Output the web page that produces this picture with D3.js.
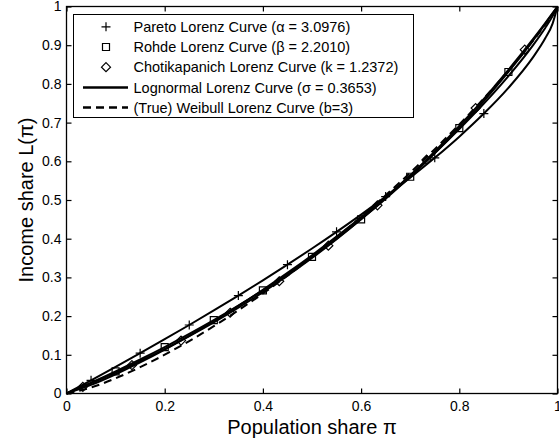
<!DOCTYPE html>
<html>
<head>
<meta charset="utf-8">
<style>
body { margin: 0; background: white; }
svg { font-family: "Liberation Sans", Arial, sans-serif; }
.axis path { display: none; }
.axis line { stroke: black; stroke-width: 1.2px; }
.axis text { font-size: 14px; fill: black; }
</style>
</head>
<body>
<script src="https://cdn.jsdelivr.net/npm/d3@7"></script>
<script>
var width = 559,
    height = 447;

// population share grid and the curves
var popShare = [0, 0.05, 0.1, 0.15, 0.2, 0.25, 0.3, 0.35, 0.4, 0.45, 0.5, 0.55, 0.6, 0.65, 0.7, 0.75, 0.8, 0.85, 0.9, 0.95, 0.975, 0.99, 1];
var paretoL = [0, 0.0341, 0.0689, 0.1042, 0.1402, 0.1770, 0.2146, 0.2530, 0.2924, 0.3329, 0.3746, 0.4177, 0.4623, 0.5088, 0.5575, 0.6089, 0.6637, 0.7233, 0.7897, 0.8685, 0.9177, 0.9558, 1];
var rohdeL = [0, 0.0279, 0.0572, 0.0878, 0.1200, 0.1539, 0.1895, 0.2271, 0.2667, 0.3087, 0.3530, 0.4001, 0.4501, 0.5033, 0.5601, 0.6208, 0.6858, 0.7556, 0.8308, 0.9120, 0.9551, 0.9818, 1];
var chotiL = [0, 0.0261, 0.0538, 0.0834, 0.1148, 0.1482, 0.1837, 0.2216, 0.2618, 0.3046, 0.3501, 0.3985, 0.4501, 0.5049, 0.5632, 0.6252, 0.6912, 0.7614, 0.8361, 0.9155, 0.9571, 0.9827, 1];
var lognormalL = [0, 0.0222, 0.0498, 0.0805, 0.1137, 0.1492, 0.1868, 0.2264, 0.2681, 0.3117, 0.3574, 0.4053, 0.4554, 0.5080, 0.5632, 0.6214, 0.6831, 0.7489, 0.8202, 0.8997, 0.9446, 0.9751, 1];
var weibullL = [0, 0.0155, 0.0393, 0.0679, 0.1002, 0.1356, 0.1740, 0.2150, 0.2585, 0.3044, 0.3527, 0.4035, 0.4564, 0.5122, 0.5704, 0.6313, 0.6953, 0.7626, 0.8341, 0.9111, 0.9528, 0.9796, 1];

// marker positions
var paretoMarkP = [0.05, 0.15, 0.25, 0.35, 0.45, 0.55, 0.65, 0.75, 0.85];
var paretoMarkL = [0.0341, 0.1042, 0.1770, 0.2530, 0.3329, 0.4177, 0.5088, 0.6089, 0.7233];
var rohdeMarkP = [0.1, 0.2, 0.3, 0.4, 0.5, 0.6, 0.7, 0.8, 0.9];
var rohdeMarkL = [0.0572, 0.1200, 0.1895, 0.2667, 0.3530, 0.4501, 0.5601, 0.6858, 0.8308];
var chotiMarkP = [0.0333, 0.1333, 0.2333, 0.3333, 0.4333, 0.5333, 0.6333, 0.7333, 0.8333, 0.9333];
var chotiMarkL = [0.0172, 0.0733, 0.1368, 0.2087, 0.2900, 0.3821, 0.4862, 0.6041, 0.7375, 0.8885];

var xTicks = [0, 0.2, 0.4, 0.6, 0.8, 1];
var yTicks = [0, 0.1, 0.2, 0.3, 0.4, 0.5, 0.6, 0.7, 0.8, 0.9, 1];
var legendLabels = [
  "Pareto Lorenz Curve (\u03b1 = 3.0976)",
  "Rohde Lorenz Curve (\u03b2 = 2.2010)",
  "Chotikapanich Lorenz Curve (k = 1.2372)",
  "Lognormal Lorenz Curve (\u03c3 = 0.3653)",
  "(True) Weibull Lorenz Curve (b=3)"
];

var x = d3.scaleLinear().domain([0, 1]).range([66.5, 557.5]);
var y = d3.scaleLinear().domain([0, 1]).range([393.5, 6.5]);

var svg = d3.select("body").append("svg")
    .attr("width", width)
    .attr("height", height);

// axes, ticks inward on all four sides
var fmt = function(d) { return d3.format("")(+d.toFixed(1)); };
svg.append("g").attr("class", "axis")
    .attr("transform", "translate(0," + y(0) + ")")
    .call(d3.axisBottom(x).tickValues(xTicks).tickSizeInner(-5).tickSizeOuter(0).tickPadding(8).tickFormat(fmt));
svg.append("g").attr("class", "axis")
    .attr("transform", "translate(0," + y(1) + ")")
    .call(d3.axisTop(x).tickValues(xTicks).tickSizeInner(-5).tickSizeOuter(0).tickFormat(""));
svg.append("g").attr("class", "axis")
    .attr("transform", "translate(" + x(0) + ",0)")
    .call(d3.axisLeft(y).tickValues(yTicks).tickSizeInner(-5).tickSizeOuter(0).tickPadding(5).tickFormat(fmt));
svg.append("g").attr("class", "axis")
    .attr("transform", "translate(" + x(1) + ",0)")
    .call(d3.axisRight(y).tickValues(yTicks).tickSizeInner(-5).tickSizeOuter(0).tickFormat(""));

svg.append("rect")
    .attr("x", x(0)).attr("y", y(1))
    .attr("width", x(1) - x(0)).attr("height", y(0) - y(1))
    .attr("fill", "none").attr("stroke", "black").attr("stroke-width", 1.3);

// curves
var line = d3.line()
    .x(function(d) { return x(d[0]); })
    .y(function(d) { return y(d[1]); })
    .curve(d3.curveMonotoneX);

var curves = [
  { vals: paretoL, dash: null },
  { vals: rohdeL, dash: null },
  { vals: chotiL, dash: null },
  { vals: lognormalL, dash: null },
  { vals: weibullL, dash: "8,5" }
];

svg.append("g").selectAll("path")
    .data(curves)
    .enter().append("path")
    .attr("d", function(c) { return line(d3.zip(popShare, c.vals)); })
    .attr("fill", "none")
    .attr("stroke", "black")
    .attr("stroke-width", 2)
    .attr("stroke-dasharray", function(c) { return c.dash; });

// marker shapes
function plusPath(s) { return "M" + (-s) + ",0H" + s + "M0," + (-s) + "V" + s; }
function squarePath(s) { return "M" + (-s) + "," + (-s) + "H" + s + "V" + s + "H" + (-s) + "Z"; }
function diamondPath(s) { return "M0," + (-s) + "L" + s + ",0L0," + s + "L" + (-s) + ",0Z"; }

var markerSets = [
  { p: paretoMarkP, l: paretoMarkL, shape: plusPath(4.5) },
  { p: rohdeMarkP, l: rohdeMarkL, shape: squarePath(3.5) },
  { p: chotiMarkP, l: chotiMarkL, shape: diamondPath(4.5) }
];

markerSets.forEach(function(m) {
  svg.append("g").selectAll("path")
      .data(d3.zip(m.p, m.l))
      .enter().append("path")
      .attr("transform", function(d) { return "translate(" + x(d[0]) + "," + y(d[1]) + ")"; })
      .attr("d", m.shape)
      .attr("fill", "none")
      .attr("stroke", "black")
      .attr("stroke-width", 1.2);
});

// axis labels
svg.append("text")
    .attr("x", (x(0) + x(1)) / 2)
    .attr("y", 434)
    .attr("text-anchor", "middle")
    .style("font-size", "20px")
    .text("Population share \u03c0");

svg.append("text")
    .attr("transform", "translate(33," + (y(0) + y(1)) / 2 + ") rotate(-90)")
    .attr("text-anchor", "middle")
    .style("font-size", "20px")
    .text("Income share L(\u03c0)");

// legend
var legend = svg.append("g");
legend.append("rect")
    .attr("x", 73.5).attr("y", 14.5)
    .attr("width", 340).attr("height", 103)
    .attr("fill", "white").attr("stroke", "black").attr("stroke-width", 1);

var rowY = function(i) { return 26.8 + i * 20.2; };
legend.selectAll("text")
    .data(legendLabels)
    .enter().append("text")
    .attr("x", 133.5)
    .attr("y", function(d, i) { return rowY(i); })
    .attr("dy", "0.36em")
    .style("font-size", "14.5px")
    .text(function(d) { return d; });

markerSets.forEach(function(m, i) {
  legend.append("path")
      .attr("transform", "translate(106," + rowY(i) + ")")
      .attr("d", m.shape)
      .attr("fill", "none")
      .attr("stroke", "black")
      .attr("stroke-width", 1.2);
});
[3, 4].forEach(function(i) {
  legend.append("line")
      .attr("x1", 83).attr("x2", 128)
      .attr("y1", rowY(i)).attr("y2", rowY(i))
      .attr("stroke", "black")
      .attr("stroke-width", 2.5)
      .attr("stroke-dasharray", curves[i].dash);
});
</script>
</body>
</html>
